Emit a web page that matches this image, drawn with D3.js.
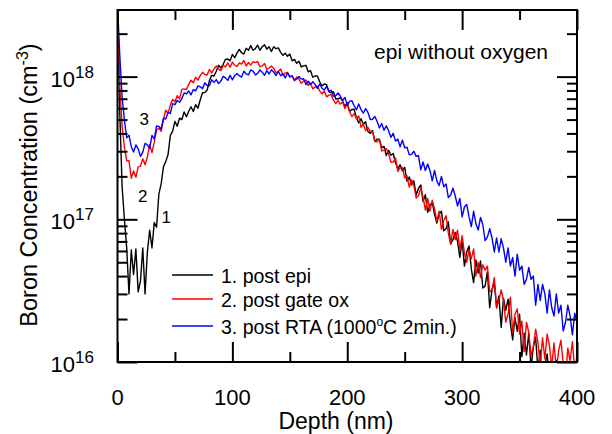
<!DOCTYPE html>
<html lang="en">
<head>
<meta charset="utf-8">
<script src="https://d3js.org/d3.v7.min.js"></script>
<style>
  body { margin: 0; background: #fff; }
  svg text { font-family: "Liberation Sans", Arial, sans-serif; fill: #000; }
</style>
</head>
<body>
<div id="container"></div>
<script>
// depth grid (nm) shared by the three SIMS profiles
var depth = [
  0, 2, 4, 6, 8, 10, 12, 14, 16, 18,
  20, 22, 24, 26, 28, 30, 32, 34, 36, 38,
  40, 42, 44, 46, 48, 50, 52, 54, 56, 58,
  60, 62, 64, 66, 68, 70, 72, 74, 76, 78,
  80, 82, 84, 86, 88, 90, 92, 94, 96, 98,
  100, 102, 104, 106, 108, 110, 112, 114, 116, 118,
  120, 122, 124, 126, 128, 130, 132, 134, 136, 138,
  140, 142, 144, 146, 148, 150, 152, 154, 156, 158,
  160, 162, 164, 166, 168, 170, 172, 174, 176, 178,
  180, 182, 184, 186, 188, 190, 192, 194, 196, 198,
  200, 202, 204, 206, 208, 210, 212, 214, 216, 218,
  220, 222, 224, 226, 228, 230, 232, 234, 236, 238,
  240, 242, 244, 246, 248, 250, 252, 254, 256, 258,
  260, 262, 264, 266, 268, 270, 272, 274, 276, 278,
  280, 282, 284, 286, 288, 290, 292, 294, 296, 298,
  300, 302, 304, 306, 308, 310, 312, 314, 316, 318,
  320, 322, 324, 326, 328, 330, 332, 334, 336, 338,
  340, 342, 344, 346, 348, 350, 352, 354, 356, 358,
  360, 362, 364, 366, 368, 370, 372, 374, 376, 378,
  380, 382, 384, 386, 388, 390, 392, 394, 396, 398,
  400
];

// boron concentration, in units of 1e16 cm^-3
var UNIT = 1e16;

var postEpi = [
  320, 55, 17, 10, 6.3, 3.0, 6.1, 4.1, 6.2, 3.1,
  3.7, 6.3, 3.0, 5.9, 8.4, 6.3, 9.5, 8.8, 15, 17.7,
  23.3, 25.4, 28.4, 38.8, 41.5, 48.6, 44.9, 51.2, 49.9, 56.5,
  52.3, 57.2, 61.5, 56.9, 63.6, 60.0, 68.5, 77.1, 77.3, 80.2,
  93.8, 102, 101, 109, 120, 115, 122, 132, 133, 129,
  143, 136, 146, 155, 147, 144, 158, 153, 165, 153,
  157, 166, 153, 162, 167, 156, 162, 150, 162, 157,
  159, 148, 141, 146, 139, 144, 129, 132, 124, 128,
  117, 119, 120, 108, 110, 99, 101, 101, 92, 86,
  88.7, 87.8, 78.6, 77.2, 78.5, 69.7, 69.9, 71.1, 67.3, 61.8,
  65.6, 57.1, 58.8, 59.0, 51.5, 47.4, 50.7, 46.3, 48.2, 41.2,
  40.0, 41.9, 35.1, 36.5, 36.5, 31.7, 32.5, 28.0, 30.4, 28.1,
  28.9, 24.9, 22.6, 24.1, 21.9, 23.1, 18.5, 19.8, 17.4, 18.6,
  14.8, 16.5, 17.4, 13.3, 14.9, 11.2, 12.6, 13.2, 10.8, 9.4,
  10.9, 11.4, 8.3, 8.6, 9.6, 6.7, 7.2, 8.1, 7.0, 5.4,
  7.1, 4.7, 5.9, 6.5, 4.5, 3.6, 5.2, 4.2, 5.1, 3.3,
  3.4, 4.3, 2.4, 3.2, 3.6, 2.4, 2.9, 1.75, 2.8, 2.3,
  2.76, 1.86, 1.43, 2.05, 1.64, 2.16, 1.09, 1.59, 1.12, 1.59,
  0.91, 1.27, 1.49, 0.87, 1.21, 0.65, 0.95, 1.14, 0.77, 0.6,
  0.91, 1.03, 0.6, 0.69, 0.92, 0.48, 0.62, 0.82, 0.69, 0.43,
  0.6
];

var postGateOx = [
  320, 85, 45, 32, 25.7, 25.8, 19.4, 21.8, 19.7, 23.3,
  23.6, 26.6, 24.1, 27.3, 33.4, 29.4, 34.7, 42.3, 43.5, 41.4,
  49.9, 58.1, 55.3, 63.4, 69.2, 66.6, 73.5, 69.8, 81.3, 82.1,
  81.1, 88.3, 94.5, 90.7, 98.9, 94.5, 101.5, 107.1, 103.4, 102.7,
  112.3, 106.1, 113.1, 118.6, 112.7, 110.2, 119.9, 116.8, 125, 116.4,
  126.4, 120.3, 117.7, 125, 122.4, 129.7, 118.6, 125.4, 120.4, 127.3,
  125.5, 127.5, 117.4, 118.8, 123.8, 112.7, 114.8, 118.5, 114.1, 106.4,
  108.8, 113.2, 102.2, 105.8, 107.2, 99.5, 101.7, 93.5, 99.5, 95.7,
  89.7, 93.0, 94.7, 86.6, 90.0, 82.1, 84.6, 85.7, 79.4, 75.6,
  79.3, 72.2, 74.1, 74.8, 68.4, 64.6, 68.1, 64.2, 66.4, 59.8,
  64.3, 56.9, 52.5, 55.1, 50.8, 52.9, 44.2, 46.5, 41.9, 44.1,
  41.3, 41.3, 35.2, 34.9, 36.2, 30.2, 30.5, 31.3, 28.8, 25.1,
  25.2, 26.9, 21.7, 22.9, 23.1, 19.5, 20.2, 16.8, 18.9, 17.2,
  14.1, 14.7, 16.5, 14.3, 11.6, 14.0, 11.4, 13.6, 11.8, 9.7,
  11.4, 8.5, 9.8, 10.6, 8.0, 6.7, 8.5, 7.2, 8.4, 6.1,
  7.7, 5.8, 5.0, 6.1, 5.3, 6.2, 4.0, 5.0, 3.9, 4.8,
  4.4, 4.7, 3.1, 3.2, 3.9, 2.4, 2.7, 3.2, 2.7, 1.9,
  2.18, 2.85, 1.61, 2.16, 2.36, 1.57, 1.93, 1.18, 1.9, 1.62,
  1.1, 1.28, 1.7, 1.37, 0.94, 1.48, 1.05, 1.57, 1.3, 0.92,
  1.36, 0.87, 1.2, 1.42, 0.98, 0.77, 1.25, 1.02, 1.39, 0.87,
  1.1
];

var postRTA = [
  320, 140, 72, 50, 37.3, 38.9, 32.3, 29.6, 33.2, 31.2,
  27.6, 29.6, 34.0, 33.3, 31.4, 38.7, 36.6, 45.1, 44.8, 42.8,
  51.1, 50.4, 56.0, 55.2, 64.7, 63.6, 68.1, 66.1, 70.1, 76.9,
  75.8, 79.3, 74.6, 81.2, 79.5, 85.9, 84.9, 82.1, 90.5, 86.7,
  86.3, 95.0, 91.1, 95.3, 89.3, 93.1, 100.3, 98.0, 94.1, 102,
  95, 101.5, 105.1, 101.5, 99.3, 109.2, 104.4, 102.8, 111.3, 109.1,
  102.7, 105.4, 111.3, 107.5, 102.2, 110.2, 104.3, 111.8, 107.6, 101.8,
  108.7, 101.4, 104.5, 97.9, 106.1, 99.5, 101.0, 94.6, 96.0, 100.3,
  96.0, 96.6, 88.0, 92.8, 87.9, 92.1, 88.2, 82.7, 88.8, 82.9,
  80.5, 85.5, 79.0, 80.2, 72.8, 73.5, 76.9, 72.9, 68.0, 71.5,
  63.2, 67.1, 67.9, 62.5, 58.5, 64.4, 58.6, 55.4, 59.7, 56.1,
  50.0, 50.3, 52.6, 48.5, 43.7, 46.9, 42.1, 45.2, 41.7, 37.5,
  40.1, 35.3, 36.5, 32.2, 35.9, 31.7, 32.0, 28.3, 28.5, 30.0,
  27.6, 28.0, 22.2, 25.2, 22.0, 24.4, 22.0, 18.6, 22.0, 18.6,
  17.2, 20.0, 16.9, 17.7, 14.2, 14.8, 16.5, 14.6, 12.4, 14.0,
  10.4, 12.2, 12.7, 10.4, 8.9, 11.4, 9.3, 8.4, 10.3, 9.2,
  7.1, 7.5, 8.6, 7.4, 5.9, 7.4, 5.9, 7.3, 6.3, 5.0,
  6.3, 4.7, 5.4, 4.0, 5.7, 4.4, 4.7, 3.5, 3.8, 4.6,
  3.8, 4.0, 2.5, 3.5, 2.7, 3.5, 3.0, 2.2, 3.2, 2.4,
  2.1, 3.0, 2.2, 2.5, 1.65, 1.9, 2.5, 2.1, 1.55, 2.2,
  1.9
];

var seriesColors = ["#000000", "#ff0000", "#0000ff"];
var legendLabels = ["1. post epi", "2. post gate ox", "3. post RTA (1000°C 2min.)"];
var curveTags = ["1", "2", "3"];

var xMajor = [0, 100, 200, 300, 400];
var xMinor = [50, 150, 250, 350];
var yMajor = [1e16, 1e17, 1e18];
var yExp = ["16", "17", "18"];

var width = 612, height = 434;
var plot = {left: 117.5, right: 577, top: 10, bottom: 362};

var svg = d3.select("#container")
  .append("svg")
  .attr("width", width)
  .attr("height", height);

var x = d3.scaleLinear().domain([0, 400]).range([plot.left, plot.right]);
var y = d3.scaleLog().domain([1e16, 2.93e18]).range([plot.bottom, plot.top]);

var yMinor = y.ticks().filter(function(v) {
  return yMajor.indexOf(v) < 0 && v <= y.domain()[1];
});

svg.append("clipPath").attr("id", "plotclip")
  .append("rect")
  .attr("x", plot.left).attr("y", plot.top)
  .attr("width", plot.right - plot.left)
  .attr("height", plot.bottom - plot.top);

// profiles, drawn black, red, blue
var line = d3.line()
  .x(function(d, i) { return x(depth[i]); })
  .y(function(d) { return y(d * UNIT); });

var lines = svg.append("g").attr("clip-path", "url(#plotclip)");
[postEpi, postGateOx, postRTA].forEach(function(s, k) {
  lines.append("path")
    .datum(s)
    .attr("d", line)
    .attr("fill", "none")
    .attr("stroke", seriesColors[k])
    .attr("stroke-width", 1.4)
    .attr("stroke-linejoin", "round");
});

// inward ticks on all four sides
function ticks(axis, vals, size, tx, ty) {
  var g = svg.append("g")
    .attr("transform", "translate(" + tx + "," + ty + ")")
    .call(axis.tickValues(vals).tickSize(-size).tickFormat(""));
  g.select(".domain").remove();
  g.selectAll("line").attr("stroke", "#000").attr("stroke-width", 2);
}
ticks(d3.axisBottom(x), xMajor, 20, 0, plot.bottom);
ticks(d3.axisBottom(x), xMinor, 10, 0, plot.bottom);
ticks(d3.axisTop(x), xMajor, 20, 0, plot.top);
ticks(d3.axisTop(x), xMinor, 10, 0, plot.top);
ticks(d3.axisLeft(y), yMajor, 20, plot.left, 0);
ticks(d3.axisLeft(y), yMinor, 10, plot.left, 0);
ticks(d3.axisRight(y), yMajor, 20, plot.right, 0);
ticks(d3.axisRight(y), yMinor, 10, plot.right, 0);

svg.append("rect")
  .attr("x", plot.left).attr("y", plot.top)
  .attr("width", plot.right - plot.left)
  .attr("height", plot.bottom - plot.top)
  .attr("fill", "none")
  .attr("stroke", "#000")
  .attr("stroke-width", 2);

// tick labels
svg.selectAll(".xlab").data(xMajor).enter().append("text")
  .attr("x", function(d) { return x(d); })
  .attr("y", 405)
  .attr("text-anchor", "middle")
  .style("font-size", "22px")
  .text(function(d) { return d; });

var ylab = svg.selectAll(".ylab").data(yMajor).enter().append("text")
  .attr("x", 94)
  .attr("y", function(d) { return y(d) + 10; })
  .attr("text-anchor", "end")
  .style("font-size", "22px");
ylab.append("tspan").text("10");
ylab.append("tspan")
  .attr("dy", -9)
  .style("font-size", "17px")
  .text(function(d, i) { return yExp[i]; });

// axis titles
svg.append("text")
  .attr("x", 336).attr("y", 429)
  .attr("text-anchor", "middle")
  .style("font-size", "23px")
  .text("Depth (nm)");

var yt = svg.append("text")
  .attr("transform", "translate(37,185) rotate(-90)")
  .attr("text-anchor", "middle")
  .style("font-size", "23.5px");
yt.append("tspan").text("Boron Concentration (cm");
yt.append("tspan").attr("dy", -9).style("font-size", "16px").text("-3");
yt.append("tspan").attr("dy", 9).text(")");

svg.append("text")
  .attr("x", 548).attr("y", 59)
  .attr("text-anchor", "end")
  .style("font-size", "21px")
  .text("epi without oxygen");

// curve numbers
var tagPos = [[161.5, 223], [138, 201.5], [139.5, 124.5]];
curveTags.forEach(function(t, k) {
  svg.append("text")
    .attr("x", tagPos[k][0]).attr("y", tagPos[k][1])
    .style("font-size", "17px")
    .text(t);
});

// legend
var legY = [275, 299, 326];
legendLabels.forEach(function(lab, k) {
  svg.append("line")
    .attr("x1", 172).attr("x2", 213)
    .attr("y1", legY[k]).attr("y2", legY[k])
    .attr("stroke", seriesColors[k])
    .attr("stroke-width", 1.4);
  var t = svg.append("text")
    .attr("x", 221).attr("y", legY[k] + 8)
    .style("font-size", "19.5px");
  var parts = lab.split("°");
  t.append("tspan").text(parts[0]);
  if (parts.length > 1) {
    t.append("tspan").attr("dy", -8).style("font-size", "12px").text("o");
    t.append("tspan").attr("dy", 8).text(parts[1]);
  }
});
</script>
</body>
</html>
